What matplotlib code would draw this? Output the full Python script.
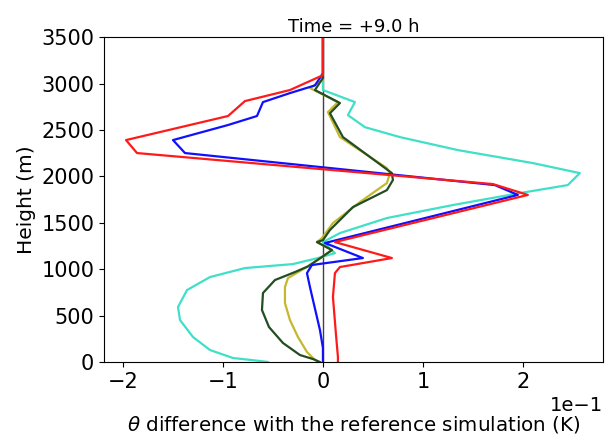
import matplotlib
matplotlib.use("Agg")
import matplotlib.pyplot as plt
import numpy as np

# values in K (axis shows them in units of 1e-1)
red_h = [3500, 3090, 2930, 2811, 2650, 2391, 2251, 1917, 1800, 1292, 1120, 1023, 958, 700, 300, 54, 0]
red_v = [0.0, 0.0, -0.033, -0.078, -0.095, -0.197, -0.186, 0.170, 0.205, 0.012, 0.069, 0.017, 0.012, 0.010, 0.013, 0.015, 0.015]

blue_h = [3500, 3110, 2980, 2897, 2800, 2650, 2553, 2391, 2251, 1906, 1800, 1282, 1120, 1045, 958, 808, 668, 345, 150, 0]
blue_v = [0.0, 0.0, -0.008, -0.033, -0.060, -0.066, -0.095, -0.150, -0.138, 0.172, 0.195, 0.002, 0.040, -0.011, -0.016, -0.013, -0.010, -0.003, 0.0, 0.0]

cyan_h = [3500, 2930, 2800, 2660, 2530, 2423, 2283, 2143, 2035, 1906, 1820, 1691, 1551, 1389, 1292, 1173, 1120, 1055, 1012, 915, 775, 592, 452, 269, 129, 43, 11, 0]
cyan_v = [0.0, 0.0, 0.032, 0.025, 0.042, 0.077, 0.135, 0.210, 0.257, 0.245, 0.197, 0.130, 0.064, 0.017, 0.0, 0.012, -0.005, -0.030, -0.078, -0.113, -0.136, -0.145, -0.143, -0.130, -0.113, -0.090, -0.063, -0.055]

green_h = [3500, 3060, 2930, 2790, 2680, 2423, 2035, 1960, 1852, 1669, 1422, 1313, 1292, 1206, 1131, 1030, 969, 883, 743, 560, 377, 205, 75, 32, 0]
green_v = [0.0, 0.0, -0.008, 0.017, 0.007, 0.020, 0.069, 0.070, 0.064, 0.030, 0.007, 0.0, -0.006, 0.009, -0.001, -0.015, -0.028, -0.048, -0.060, -0.061, -0.054, -0.040, -0.023, -0.010, -0.003]

gold_h = [3500, 3040, 2951, 2800, 2692, 2423, 2089, 2035, 1928, 1723, 1497, 1335, 1292, 1206, 1131, 1030, 904, 808, 635, 452, 269, 108, 43, 0]
gold_v = [0.0, 0.0, -0.013, 0.015, 0.005, 0.017, 0.064, 0.067, 0.064, 0.037, 0.010, -0.001, -0.006, 0.009, -0.001, -0.015, -0.035, -0.038, -0.038, -0.033, -0.025, -0.016, -0.010, -0.005]

title = "Time = +9.0 h"
xlabel = r"$\theta$ difference with the reference simulation (K)"
ylabel = "Height (m)"

plt.rcParams['font.size'] = 15
fig = plt.figure(figsize=(6.12, 4.42), dpi=100)
ax = fig.add_axes([0.170, 0.181, 0.815, 0.735])

ax.axvline(0, color='#404040', lw=1.0, zorder=1)
ax.plot(cyan_v, cyan_h, color='#40E0C8', lw=1.6)
ax.plot(gold_v, gold_h, color='#c4b830', lw=1.6)
ax.plot(green_v, green_h, color='#234d23', lw=1.6)
ax.plot(blue_v, blue_h, color='#1010ff', lw=1.6)
ax.plot(red_v, red_h, color='#ff1a1a', lw=1.6)

ax.set_xlim(-0.219, 0.28)
ax.set_ylim(0, 3500)
ax.set_yticks(np.arange(0, 3501, 500))
ax.set_xticks([-0.2, -0.1, 0.0, 0.1, 0.2])
ax.ticklabel_format(axis='x', style='sci', scilimits=(0, 0))
ax.tick_params(labelsize=15)
ax.xaxis.get_offset_text().set_fontsize(14)
ax.set_title(title, fontsize=13, pad=4)
ax.set_xlabel(xlabel, fontsize=14.3, labelpad=16)
ax.set_ylabel(ylabel, fontsize=14.5)

fig.savefig("out.png", dpi=100)
